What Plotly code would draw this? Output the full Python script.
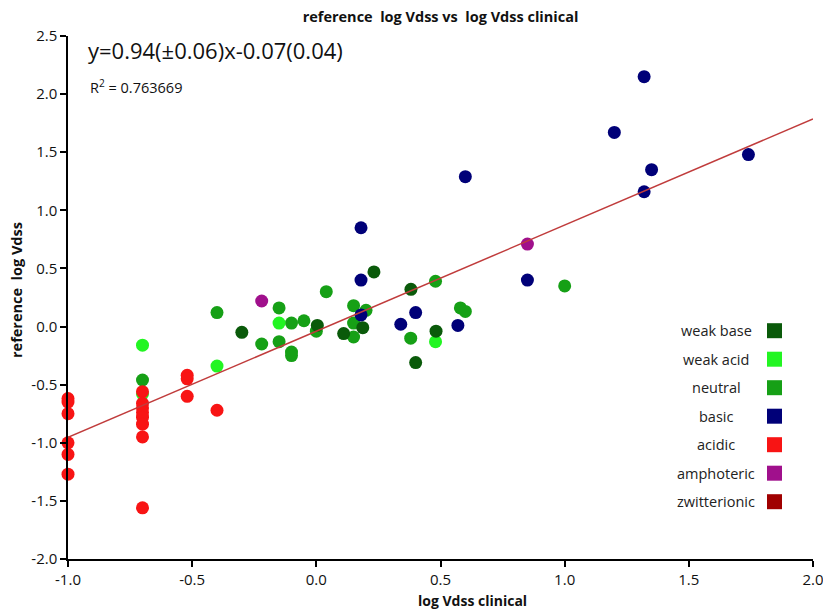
import plotly.graph_objects as go

# ---------------- data ----------------
weak_base_x = [-0.30, 0.004, 0.11, 0.187, 0.232, 0.381, 0.40, 0.482]
weak_base_y = [-0.05, 0.01, -0.06, -0.01, 0.47, 0.32, -0.31, -0.04]

weak_acid_x = [-0.70, -0.70, -0.40, -0.15, 0.48]
weak_acid_y = [-0.16, -0.58, -0.34, 0.03, -0.13]

neutral_x = [-0.70, -0.40, -0.22, -0.15, -0.15, -0.10, -0.10, -0.10, -0.05, 0.00,
             0.04, 0.15, 0.15, 0.15, 0.20, 0.38, 0.48, 0.58, 0.60, 1.00]
neutral_y = [-0.46, 0.12, -0.15, 0.16, -0.13, 0.03, -0.22, -0.25, 0.05, -0.04,
             0.30, 0.18, 0.03, -0.09, 0.14, -0.10, 0.39, 0.16, 0.13, 0.35]

basic_x = [0.18, 0.18, 0.18, 0.34, 0.40, 0.57, 0.60, 0.85, 1.20, 1.32, 1.32, 1.35, 1.74]
basic_y = [0.10, 0.40, 0.85, 0.02, 0.12, 0.01, 1.29, 0.40, 1.67, 2.15, 1.16, 1.35, 1.48]

acidic_x = [-1.0, -1.0, -1.0, -1.0, -1.0, -1.0,
            -0.7, -0.7, -0.7, -0.7, -0.7, -0.7, -0.7, -0.7,
            -0.52, -0.52, -0.52, -0.4]
acidic_y = [-0.62, -0.65, -0.75, -1.00, -1.10, -1.27,
            -0.56, -0.66, -0.70, -0.74, -0.78, -0.84, -0.95, -1.56,
            -0.42, -0.45, -0.60, -0.72]

amphoteric_x = [-0.22, 0.85]
amphoteric_y = [0.22, 0.71]

fit_slope = 0.913
fit_intercept = -0.04
fit_x = [-1.0, 2.0]

x_tickvals = [-1, -0.5, 0, 0.5, 1, 1.5, 2]
x_ticktext = ["-1.0", "-0.5", "0.0", "0.5", "1.0", "1.5", "2.0"]
y_tickvals = [-2, -1.5, -1, -0.5, 0, 0.5, 1, 1.5, 2, 2.5]
y_ticktext = ["-2.0", "-1.5", "-1.0", "-0.5", "0.0", "0.5", "1.0", "1.5", "2.0", "2.5"]

legend_labels = ["weak base", "weak acid", "neutral", "basic", "acidic", "amphoteric", "zwitterionic"]
colors = {
    "weak base": "#0a5a0a",
    "weak acid": "#22f522",
    "neutral": "#16a016",
    "basic": "#000078",
    "acidic": "#f81414",
    "amphoteric": "#a0108c",
    "zwitterionic": "#a00000",
}

# ---------------- figure ----------------
fig = go.Figure()

series = [
    ("neutral", neutral_x, neutral_y),
    ("weak acid", weak_acid_x, weak_acid_y),
    ("weak base", weak_base_x, weak_base_y),
    ("basic", basic_x, basic_y),
    ("amphoteric", amphoteric_x, amphoteric_y),
    ("acidic", acidic_x, acidic_y),
]
for name, xs, ys in series:
    fig.add_trace(go.Scatter(
        x=xs, y=ys, mode="markers", name=name, showlegend=False,
        marker=dict(size=13, color=colors[name], line=dict(width=0)),
        cliponaxis=False,
    ))

fig.add_trace(go.Scatter(
    x=fit_x, y=[fit_slope * v + fit_intercept for v in fit_x],
    mode="lines", line=dict(color="#c03c3c", width=1.5), showlegend=False,
))

# plot area in pixels
L, R, T, B = 68, 813, 36, 559
W, H = 823, 611


def px_x(p):
    return (p - L) / (R - L)


def px_y(p):
    return (B - p) / (B - T)


annotations = []
shapes = []

# custom legend (text then square)
for i, lab in enumerate(legend_labels):
    cy = 330.7 + i * 28.5
    annotations.append(dict(
        xref="paper", yref="paper", x=px_x(716), y=px_y(cy),
        text=lab, showarrow=False, xanchor="center", yanchor="middle",
        font=dict(family="Open Sans", size=14.5, color="#222"),
    ))
    shapes.append(dict(
        type="rect", xref="paper", yref="paper",
        x0=px_x(767), x1=px_x(782), y0=px_y(cy + 7.5), y1=px_y(cy - 7.5),
        fillcolor=colors[lab], line=dict(width=0),
    ))

# equation and R^2
annotations.append(dict(
    xref="paper", yref="paper", x=px_x(86), y=px_y(50),
    text="y=0.94(±0.06)x-0.07(0.04)", showarrow=False,
    xanchor="left", yanchor="middle",
    font=dict(family="Open Sans", size=22, color="#111"),
))
annotations.append(dict(
    xref="paper", yref="paper", x=px_x(88), y=px_y(86),
    text="R<sup>2</sup> = 0.763669", showarrow=False,
    xanchor="left", yanchor="middle",
    font=dict(family="Open Sans", size=14.5, color="#111"),
))

# axis titles
annotations.append(dict(
    xref="paper", yref="paper", x=px_x(16), y=px_y(290),
    text="<b>reference  log Vdss</b>", showarrow=False, textangle=-90,
    xanchor="center", yanchor="middle",
    font=dict(family="Open Sans", size=14.5, color="#111"),
))
annotations.append(dict(
    xref="paper", yref="paper", x=px_x(472), y=px_y(600),
    text="<b>log Vdss clinical</b>", showarrow=False,
    xanchor="center", yanchor="middle",
    font=dict(family="Open Sans", size=14, color="#111"),
))

axis_common = dict(
    showgrid=False, zeroline=False, showline=True, linecolor="black",
    linewidth=1.5, ticks="outside", ticklen=6, tickwidth=1.5, tickcolor="black",
    tickfont=dict(family="Open Sans", size=15, color="#111"), automargin=False,
    ticklabeloverflow="allow",
)

fig.update_layout(
    width=W, height=H,
    margin=dict(l=L, r=W - R, t=T, b=H - B),
    plot_bgcolor="white", paper_bgcolor="white",
    title=dict(text="<b>reference  log Vdss vs  log Vdss clinical</b>",
               x=0.5, xref="paper", xanchor="center", y=1 - 17 / H, yanchor="middle",
               font=dict(family="Open Sans", size=14.5, color="#111")),
    xaxis=dict(range=[-1, 2], tickvals=x_tickvals, ticktext=x_ticktext, **axis_common),
    yaxis=dict(range=[-2, 2.5], tickvals=y_tickvals, ticktext=y_ticktext, **axis_common),
    annotations=annotations,
    shapes=shapes,
    showlegend=False,
)

fig.write_html("out.html")
